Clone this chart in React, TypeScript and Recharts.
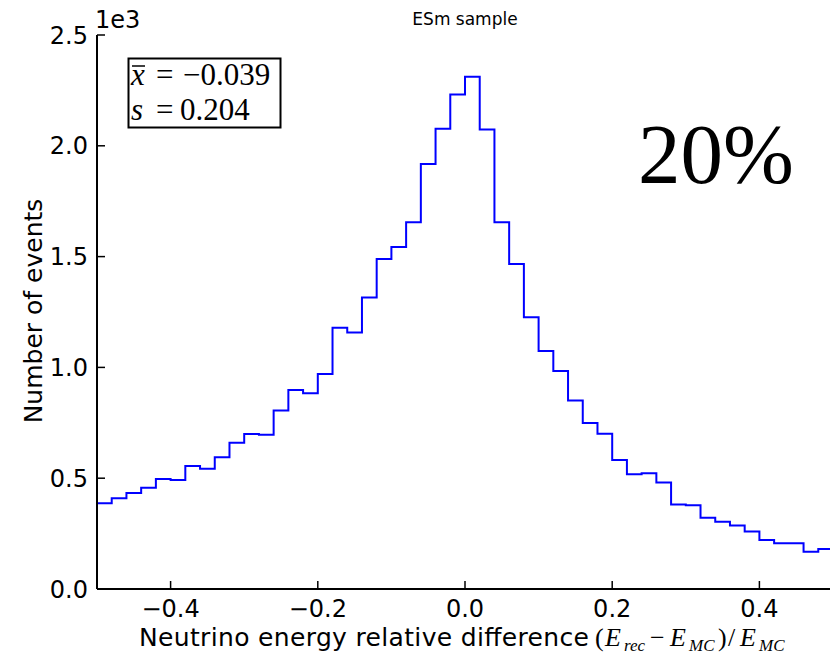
import { LineChart, Line, XAxis, YAxis } from "recharts";

// histogram bin edges (width 0.02) and event counts per bin
const binEdges = [
  -0.5, -0.48, -0.46, -0.44, -0.42, -0.4, -0.38, -0.36, -0.34, -0.32,
  -0.3, -0.28, -0.26, -0.24, -0.22, -0.2, -0.18, -0.16, -0.14, -0.12,
  -0.1, -0.08, -0.06, -0.04, -0.02, 0.0, 0.02, 0.04, 0.06, 0.08,
  0.1, 0.12, 0.14, 0.16, 0.18, 0.2, 0.22, 0.24, 0.26, 0.28,
  0.3, 0.32, 0.34, 0.36, 0.38, 0.4, 0.42, 0.44, 0.46, 0.48, 0.5,
];

const counts = [
  387, 409, 433, 457, 496, 492, 555, 543, 594, 660,
  699, 696, 806, 898, 883, 970, 1179, 1157, 1315, 1489,
  1543, 1655, 1918, 2077, 2231, 2312, 2074, 1655, 1467, 1226,
  1074, 984, 851, 749, 701, 582, 518, 522, 481, 381,
  378, 322, 304, 286, 260, 221, 206, 206, 168, 180,
];

const xTicks = [-0.4, -0.2, 0.0, 0.2, 0.4];
const yTicks = [0, 500, 1000, 1500, 2000, 2500];

const title = "ESm sample";
const meanLabel = "\u2212" + "0.039";
const sigmaLabel = "0.204";
const resolution = "20%";

// step outline: each edge takes the count of the bin it opens, last edge repeats the last bin
const data = binEdges.map((x, i) => ({
  x,
  count: counts[Math.min(i, counts.length - 1)],
}));

const sans = "'DejaVu Sans', sans-serif";
const serif = "'Liberation Serif', 'DejaVu Serif', serif";

const fmtX = (v: number) => {
  const s = Math.abs(v).toFixed(1);
  return v < -1e-9 ? "\u2212" + s : s;
};
const fmtY = (v: number) => (v / 1000).toFixed(1);

const W = 840;
const H = 654;

export default function App() {
  const tickStyle = { fontSize: 24, fill: "#000", fontFamily: sans };
  const tickLine = { stroke: "#000", strokeWidth: 1.5 };
  const axisLine = { stroke: "#000", strokeWidth: 2 };

  return (
    <div
      style={{
        position: "fixed",
        left: 0,
        top: 0,
        width: 830,
        height: 654,
        overflow: "hidden",
        background: "#fff",
      }}
    >
      <div style={{ position: "relative", width: W, height: H }}>
        <LineChart
          width={W}
          height={H}
          data={data}
          margin={{ top: 35, right: 7, bottom: 35, left: 37 }}
        >
          <XAxis
            dataKey="x"
            type="number"
            domain={[-0.5, 0.5]}
            ticks={xTicks}
            tickFormatter={fmtX}
            allowDataOverflow
            height={30}
            tick={tickStyle}
            tickSize={-8}
            tickMargin={19}
            tickLine={tickLine}
            axisLine={axisLine}
          />
          <XAxis
            xAxisId="top"
            orientation="top"
            type="number"
            domain={[-0.5, 0.5]}
            ticks={xTicks}
            height={0}
            tick={false}
            tickSize={-8}
            tickLine={tickLine}
            axisLine={axisLine}
          />
          <YAxis
            type="number"
            domain={[0, 2500]}
            ticks={yTicks}
            tickFormatter={fmtY}
            width={60}
            tick={tickStyle}
            tickSize={-8}
            tickMargin={17}
            tickLine={tickLine}
            axisLine={axisLine}
          />
          <YAxis
            yAxisId="right"
            orientation="right"
            type="number"
            domain={[0, 2500]}
            ticks={yTicks}
            width={0}
            tick={false}
            tickSize={-8}
            tickLine={tickLine}
            axisLine={axisLine}
          />
          <Line
            dataKey="count"
            type="stepAfter"
            stroke="#0000ff"
            strokeWidth={2}
            dot={false}
            isAnimationActive={false}
          />
        </LineChart>

        <svg
          width={W}
          height={H}
          style={{ position: "absolute", left: 0, top: 0, pointerEvents: "none" }}
        >
          <text x={465} y={25} textAnchor="middle" fontFamily={sans} fontSize={17}>
            {title}
          </text>
          <text x={95} y={28} fontFamily={sans} fontSize={24}>
            1e3
          </text>
          <text
            x={42}
            y={311}
            textAnchor="middle"
            fontFamily={sans}
            fontSize={25}
            transform="rotate(-90 42 311)"
          >
            Number of events
          </text>
          <text x={139} y={646} fontFamily={sans} fontSize={25} textLength={450} lengthAdjust="spacing">
            Neutrino energy relative difference
          </text>

          {/* (E_rec - E_MC) / E_MC */}
          <g fontFamily={serif} fontSize={26}>
            <text x={595} y={646}>(</text>
            <text x={605} y={646} fontStyle="italic">E</text>
            <text x={624} y={651} fontStyle="italic" fontSize={17}>rec</text>
            <text x={650} y={646}>{"\u2212"}</text>
            <text x={670} y={646} fontStyle="italic">E</text>
            <text x={689} y={651} fontStyle="italic" fontSize={17}>MC</text>
            <text x={718} y={646}>)</text>
            <text x={728} y={646}>/</text>
            <text x={740} y={646} fontStyle="italic">E</text>
            <text x={759} y={651} fontStyle="italic" fontSize={17}>MC</text>
          </g>

          <rect x={128.5} y={58.5} width={152} height={69} fill="#fff" stroke="#000" strokeWidth={2} />
          <g fontFamily={serif} fontSize={31}>
            <text x={131} y={85} fontStyle="italic">x</text>
            <line x1={132} x2={145} y1={66} y2={66} stroke="#000" strokeWidth={1.5} />
            <text x={156} y={85}>=</text>
            <text x={183} y={85}>{meanLabel}</text>
            <text x={131} y={120} fontStyle="italic">s</text>
            <text x={156} y={120}>=</text>
            <text x={180} y={120}>{sigmaLabel}</text>
          </g>

          <text x={638} y={183} fontFamily={serif} fontSize={85}>
            {resolution}
          </text>
        </svg>
      </div>
    </div>
  );
}
